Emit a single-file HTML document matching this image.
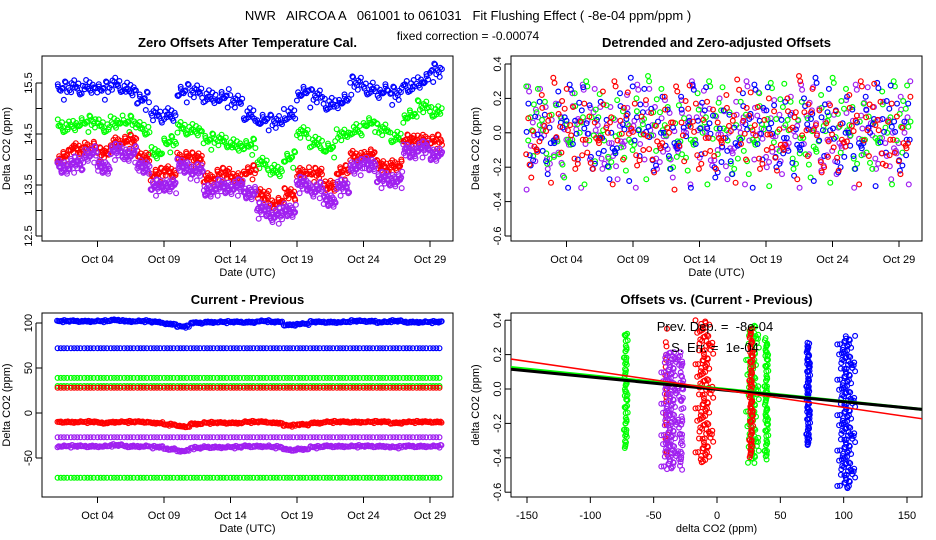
<!DOCTYPE html>
<html><head><meta charset="utf-8">
<style>
body{margin:0;background:#fff;}
svg{display:block;font-family:"Liberation Sans",sans-serif;}
</style></head>
<body>
<svg id="chart" width="936" height="540" viewBox="0 0 936 540" xmlns="http://www.w3.org/2000/svg">
<rect width="936" height="540" fill="#fff"/>
<text x="468" y="20" font-size="13" text-anchor="middle" style="white-space:pre">NWR   AIRCOA A   061001 to 061031   Fit Flushing Effect ( -8e-04 ppm/ppm )</text>
<text x="468" y="40" font-size="12" text-anchor="middle">fixed correction = -0.00074</text>
<g id="g"></g>
</svg>
<script>
// ---------- DATA ----------
const days = [0,1,2,3,4,5,6,7,8,9,10,11,12,13,14,15,16,17,18,19,20,21,22,23,24,25,26,27,28];
const dateTicks = [3,8,13,18,23,28];
const dateLabels = ["Oct 04","Oct 09","Oct 14","Oct 19","Oct 24","Oct 29"];
const blueOffsets = [15.35,15.4,15.45,15.35,15.45,15.4,15.15,14.85,14.9,15.3,15.3,15.25,15.2,15.1,14.9,14.75,14.7,14.9,15.3,15.2,15.1,15.15,15.45,15.4,15.35,15.25,15.45,15.55,15.7];
const greenOffsets = [14.65,14.7,14.7,14.65,14.75,14.7,14.6,14.15,14.3,14.6,14.6,14.35,14.35,14.3,14.25,13.9,13.8,14.0,14.5,14.35,14.2,14.45,14.6,14.7,14.55,14.45,14.85,15.0,14.95];
const redOffsets = [14.05,14.2,14.25,14.1,14.35,14.35,14.05,13.7,13.75,14.05,14.0,13.65,13.7,13.65,13.75,13.3,13.15,13.3,13.75,13.7,13.5,13.75,14.05,14.1,13.85,13.9,14.35,14.4,14.35];
const purpleOffsets = [13.85,13.9,14.1,13.85,14.15,14.1,13.85,13.45,13.5,13.85,13.75,13.4,13.45,13.45,13.35,13.0,12.9,13.0,13.5,13.4,13.2,13.45,13.85,13.9,13.6,13.6,14.15,14.2,14.1];
const blueDetr = [0.02,0.0,0.03,-0.02,0.01,0.0,-0.03,0.02,0.0,-0.01,0.03,0.0,-0.02,0.01,-0.05,0.0,0.02,-0.02,0.01,0.0,-0.01,0.02,0.0,-0.02,0.03,0.0,-0.01,0.02,-0.01];
const greenDetr = [0.0,0.03,-0.02,0.02,0.0,-0.03,0.01,0.02,-0.01,0.03,0.0,-0.02,0.02,0.0,0.01,-0.03,0.0,0.02,-0.01,0.03,0.0,-0.02,0.01,0.02,0.0,-0.01,0.03,0.0,0.02];
const redDetr = [-0.02,0.01,0.02,0.0,-0.01,0.03,0.0,-0.02,0.02,0.01,0.0,-0.03,0.02,0.0,0.03,0.01,-0.02,0.0,0.02,-0.01,0.03,0.0,-0.02,0.02,0.01,0.0,0.03,-0.01,0.0];
const purpleDetr = [-0.03,0.0,-0.01,0.02,-0.02,0.0,-0.03,0.01,-0.02,0.0,0.01,-0.02,0.0,-0.01,0.02,-0.03,0.0,-0.02,0.01,0.0,-0.02,0.01,-0.01,0.0,-0.02,0.01,0.0,-0.03,0.0];
const blueTopDiff = [102,102,102,102,103,102,102,101,99,96,100,101,101,101,101,102,101,98,99,101,101,101,102,102,101,102,101,101,101];
const redMidDiff = [-10,-10,-10,-11,-10,-10,-10,-11,-13,-15,-12,-11,-11,-11,-10,-10,-11,-14,-13,-11,-10,-10,-10,-10,-10,-11,-10,-10,-10];
const purpleLowDiff = [-37,-37,-37,-37,-36,-37,-37,-38,-40,-42,-39,-38,-38,-38,-37,-37,-38,-41,-40,-38,-37,-37,-37,-37,-37,-38,-37,-37,-37];
const constLevels = [72,39,30,28,-27,-72];
const constColors = ["#0000ff","#00ff00","#00ff00","#ff0000","#a020f0","#00ff00"];
const colX = [-72,-40,-37,-28,-10,28,27,39,72,102];
const colYmin = [-0.35,-0.47,-0.47,-0.47,-0.43,-0.43,-0.4,-0.41,-0.33,-0.58];
const colYmax = [0.33,0.35,0.22,0.22,0.4,0.38,0.35,0.3,0.27,0.31];
const colSpread = [1.5,1,7,1.5,7,5,1.5,1.5,1.5,7];
const colColor = ["#00ff00","#ff0000","#a020f0","#a020f0","#ff0000","#00ff00","#ff0000","#00ff00","#0000ff","#0000ff"];
const colCount = [60,20,140,40,120,100,80,70,80,160];
const fitSlopes = [-0.00075,-0.00072,-0.00107];
const fitIntercepts = [0.003,-0.002,0.0];
const fitColors = ["#00ff00","#000000","#ff0000"];
const fitWidths = [3,3,1.5];

// ---------- RENDER ----------
const NS="http://www.w3.org/2000/svg";
const G=document.getElementById('g');
const JIT=[-0.2,0.5,0.1,-0.6,0.3,-0.1,0.9,-0.35,0.05,-0.8,0.4,-0.25,0.15,0.7,-0.5,0.0,0.25,-1,0.6,-0.15,0.35,-0.45,0.1,0.85,-0.3,-0.05,0.45,-0.7,0.2,-0.4,1,-0.1,0.3,-0.55,0.55,-0.2,0.05];
function el(tag,attrs,parent){const e=document.createElementNS(NS,tag);for(const k in attrs)e.setAttribute(k,attrs[k]);(parent||G).appendChild(e);return e;}
function txt(x,y,s,size,anchor,rot,weight,name){const t=el('text',{x:x,y:y,'font-size':size,'text-anchor':anchor||'middle'});if(rot)t.setAttribute('transform','rotate(-90 '+x+' '+y+')');if(weight)t.setAttribute('font-weight',weight);t.textContent=s;


return t;}
function dot(x,y,c,parent){const e=el('circle',{cx:x.toFixed(1),cy:y.toFixed(1),r:2.4,fill:'none',stroke:c,'stroke-width':1.2},parent);

}
function panel(name,b,title){const g=el('g',{});


const r=el('rect',{x:b.x0,y:b.y0,width:b.x1-b.x0,height:b.y1-b.y0,fill:'none',stroke:'#000','stroke-width':1},g);


txt((b.x0+b.x1)/2,b.y0-9,title,13,'middle',false,'bold',name+'-title');
const cp=el('clipPath',{id:'cp'+name},g);el('rect',{x:b.x0,y:b.y0,width:b.x1-b.x0,height:b.y1-b.y0},cp);
const pg=el('g',{'clip-path':'url(#cp'+name+')'},g);
return pg;}
function yaxis(name,b,ys,ticks,labels,title){ticks.forEach((v,i)=>{const y=ys(v);el('line',{x1:b.x0-6,x2:b.x0,y1:y,y2:y,stroke:'#000'});if(labels[i]!=='')txt(b.x0-10,y,labels[i],11,'middle',true,null,name+'-y-tick-label');});
el('line',{x1:b.x0-6,x2:b.x0-6,y1:ys(ticks[0]),y2:ys(ticks[ticks.length-1]),stroke:'#000'});
txt(b.x0-32,(b.y0+b.y1)/2,title,11,'middle',true,null,name+'-y-axis-title');}
function xaxis(name,b,xs,ticks,labels,title){ticks.forEach((v,i)=>{const x=xs(v);el('line',{x1:x,x2:x,y1:b.y1,y2:b.y1+6,stroke:'#000'});txt(x,b.y1+22,labels[i],11,'middle',false,null,name+'-x-tick-label');});
txt((b.x0+b.x1)/2,b.y1+35,title,11,'middle',false,null,name+'-x-axis-title');}

let seq=0;
function series(pg,arr,xs,ys,c,n,amp,xw){days.forEach((d,i)=>{for(let k=0;k<n;k++){seq++;const j=JIT[(seq*13)%JIT.length];const j2=JIT[(seq*7+3)%JIT.length];dot(xs(d+(k+0.5*j2)/n*(xw||0.98)),ys(arr[i]+j*amp),c,pg);}});}

// Panel 1
const B1={x0:42,x1:453,y0:56,y1:241};
const x1s=d=>97.5+(d-3)*13.3, y1s=v=>83+(15.5-v)*51;
const p1=panel('zero-offsets-panel',B1,'Zero Offsets After Temperature Cal.');
series(p1,blueOffsets,x1s,y1s,'#0000ff',12,0.18,0.95);
series(p1,greenOffsets,x1s,y1s,'#00ff00',12,0.16,0.95);
series(p1,redOffsets,x1s,y1s,'#ff0000',16,0.14,0.95);
series(p1,purpleOffsets,x1s,y1s,'#a020f0',24,0.16,0.95);
yaxis('zero-offsets',B1,y1s,[12.5,13,13.5,14,14.5,15,15.5],['12.5','','13.5','','14.5','','15.5'],'Delta CO2 (ppm)');
xaxis('zero-offsets',B1,x1s,dateTicks,dateLabels,'Date (UTC)');

// Panel 2
const B2={x0:511,x1:922,y0:56,y1:241};
const x2s=d=>566.5+(d-3)*13.3, y2s=v=>64+(0.4-v)*172;
const p2=panel('detrended-panel',B2,'Detrended and Zero-adjusted Offsets');
series(p2,purpleDetr,x2s,y2s,'#a020f0',9,0.3,0.95);
series(p2,greenDetr,x2s,y2s,'#00ff00',8,0.3,0.95);
series(p2,blueDetr,x2s,y2s,'#0000ff',8,0.3,0.95);
series(p2,redDetr,x2s,y2s,'#ff0000',8,0.3,0.95);
yaxis('detrended',B2,y2s,[-0.6,-0.4,-0.2,0,0.2,0.4],['-0.6','-0.4','-0.2','0.0','0.2','0.4'],'Delta CO2 (ppm)');
xaxis('detrended',B2,x2s,dateTicks,dateLabels,'Date (UTC)');

// Panel 3
const B3={x0:42,x1:453,y0:313,y1:497};
const y3s=v=>413-v*0.9;
const p3=panel('current-previous-panel',B3,'Current - Previous');
constLevels.forEach((lv,j)=>{days.forEach(d=>{for(let k=0;k<4;k++)dot(x1s(d+k/4*0.95),y3s(lv),constColors[j],p3);});});
series(p3,blueTopDiff,x1s,y3s,'#0000ff',12,1.2,0.95);
series(p3,redMidDiff,x1s,y3s,'#ff0000',12,1.2,0.95);
series(p3,purpleLowDiff,x1s,y3s,'#a020f0',12,1.4,0.95);
yaxis('current-previous',B3,y3s,[-50,0,50,100],['-50','0','50','100'],'Delta CO2 (ppm)');
xaxis('current-previous',B3,x1s,dateTicks,dateLabels,'Date (UTC)');

// Panel 4
const B4={x0:511,x1:922,y0:313,y1:497};
const x4s=v=>717+v*1.2667, y4s=v=>389-v*172;
const p4=panel('offsets-vs-diff-panel',B4,'Offsets vs. (Current - Previous)');
colX.forEach((cx,i)=>{const n=colCount[i];for(let k=0;k<n;k++){seq++;const a=JIT[(seq*11)%JIT.length], b=JIT[(seq*5+1)%JIT.length];const f=Math.max(0,Math.min(1,(k+0.5+a*2)/n));dot(x4s(cx+b*colSpread[i]),y4s(colYmin[i]+(colYmax[i]-colYmin[i])*f),colColor[i],p4);}});
fitSlopes.forEach((s,i)=>{const l=el('line',{x1:x4s(-170),y1:y4s(fitIntercepts[i]+s*-170),x2:x4s(170),y2:y4s(fitIntercepts[i]+s*170),stroke:fitColors[i],'stroke-width':fitWidths[i]},p4);

});
txt(715,331,'Prev. Dep. =  -8e-04',13,'middle',false,null,'prev-dep-annotation').setAttribute('style','white-space:pre');
txt(715,352,'S. Err. =  1e-04',13,'middle',false,null,'std-err-annotation').setAttribute('style','white-space:pre');
yaxis('offsets-vs-diff',B4,y4s,[-0.6,-0.4,-0.2,0,0.2,0.4],['-0.6','-0.4','-0.2','0.0','0.2','0.4'],'delta CO2 (ppm)');
xaxis('offsets-vs-diff',B4,x4s,[-150,-100,-50,0,50,100,150],['-150','-100','-50','0','50','100','150'],'delta CO2 (ppm)');
</script>
</body></html>
